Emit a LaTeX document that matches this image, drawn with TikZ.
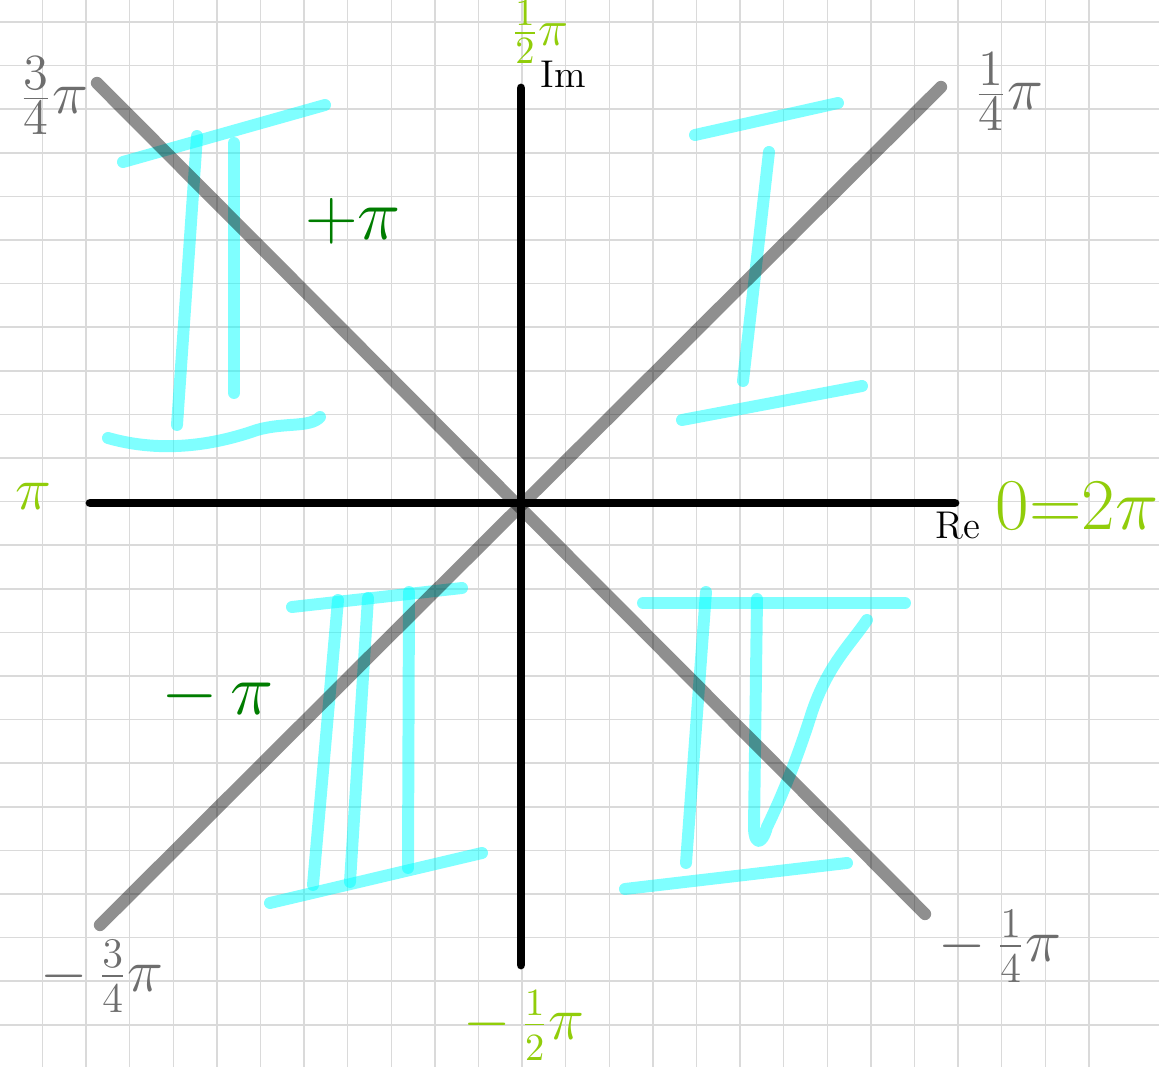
\documentclass[tikz,border=0pt]{standalone}
\usetikzlibrary{positioning}
\definecolor{numcyan}{RGB}{0, 255, 255}
\definecolor{anglime}{RGB}{145, 205, 10}
\definecolor{angdark}{RGB}{0, 125, 0}
\definecolor{anggray}{RGB}{110, 110, 110}
\definecolor{gridgray}{RGB}{218, 218, 218}
\tikzset{
    gridline/.style={draw=gridgray, line width=0.45pt},
    axisline/.style={draw=black, line width=2.5pt, line cap=round},
    diagline/.style={draw=black, draw opacity=0.44, line width=3.5pt, line cap=round},
    numstroke/.style={draw=numcyan, draw opacity=0.5, line width=3.4pt,
                line cap=round, line join=round},
    anglbl/.style={text=#1, inner sep=0pt, font=\fontsize{19}{23}\selectfont},
    axlbl/.style={text=black, inner sep=0pt, font=\fontsize{11}{13}\selectfont},
}

\begin{document}
\begin{tikzpicture}[x=0.01cm, y=-0.01cm]

    \fill[white] (0,0) rectangle (1159,1067);
    \useasboundingbox (0,0) rectangle (1159,1067);

    % squared paper
    \foreach \i in {0,...,24}
        \draw[gridline] (42.5+43.6*\i, 0) -- (42.5+43.6*\i, 1067);
    \foreach \j in {0,...,23}
        \draw[gridline] (0, 22+43.6*\j) -- (1159, 22+43.6*\j);

    % quadrant numerals
    % I
    \draw[numstroke] (695,135) -- (838,103);
    \draw[numstroke] (769,152) -- (743,381);
    \draw[numstroke] (682,420) -- (862,386);
    % II
    \draw[numstroke] (123,162) -- (325,105);
    \draw[numstroke] (197,136) -- (177,425);
    \draw[numstroke] (234,143) -- (234,393);
    \draw[numstroke] (108,438) .. controls (150,450) and (200,450) .. (257,430)
        .. controls (285,422) and (310,428) .. (320,417);
    % III
    \draw[numstroke] (292,607) -- (462,588);
    \draw[numstroke] (338,600) -- (313,885);
    \draw[numstroke] (368,598) -- (350,882);
    \draw[numstroke] (409,592) -- (408,868);
    \draw[numstroke] (270,903) -- (482,853);
    % IV
    \draw[numstroke] (643,603) -- (905,603);
    \draw[numstroke] (706,592) -- (686,863);
    \draw[numstroke] (757,599) -- (754,827) .. controls (754,845) and (762,846) .. (767,827)
        .. controls (785,790) and (800,750) .. (812,712)
        .. controls (828,665) and (850,645) .. (867,620);
    \draw[numstroke] (625,889) -- (847,863);

    % diagonals
    \coordinate (dTL) at (97,83);
    \coordinate (dBR) at (925,914);
    \coordinate (dBL) at (100,925);
    \coordinate (dTR) at (941,87);
    \draw[diagline] (dTL) -- (dBR);
    \draw[diagline] (dBL) -- (dTR);

    % axes
    \coordinate (reL) at (90,503);
    \coordinate (reR) at (955,503);
    \coordinate (imT) at (521,88);
    \coordinate (imB) at (521,965);
    \draw[axisline] (reL) -- (reR);
    \draw[axisline] (imB) -- (imT);

    \node[axlbl] (im) at (563,74) {Im};
    \node[axlbl] (re) at (958,526) {Re};

    % angles
    \node[anglbl=anglime, font=\fontsize{15}{18}\selectfont] (halfpi) at (540,32) {$\frac{1}{2}\pi$};
    \node[anglbl=anglime, font=\fontsize{16}{19}\selectfont] (mhalfpi) at (524,1026) {$-\,\frac{1}{2}\pi$};
    \node[anglbl=anglime] (pi) at (33,496) {$\pi$};
    \node[anglbl=anglime, font=\fontsize{20}{24}\selectfont] (zero) at (1077,506) {$0{=}2\pi$};
    \node[anglbl=anggray] (tqpi) at (54,96) {$\frac{3}{4}\pi$};
    \node[anglbl=anggray] (qpi) at (1009,92) {$\frac{1}{4}\pi$};
    \node[anglbl=anggray, font=\fontsize{17}{20}\selectfont] (mtqpi) at (102,976) {$-\,\frac{3}{4}\pi$};
    \node[anglbl=anggray, font=\fontsize{17}{20}\selectfont] (mqpi) at (1000,946) {$-\,\frac{1}{4}\pi$};
    \node[anglbl=angdark, font=\fontsize{20}{24}\selectfont] (ppi) at (353,221) {$+\pi$};
    \node[anglbl=angdark, font=\fontsize{20}{24}\selectfont] (mpi) at (218,696) {$-\,\pi$};

\end{tikzpicture}
\end{document}
